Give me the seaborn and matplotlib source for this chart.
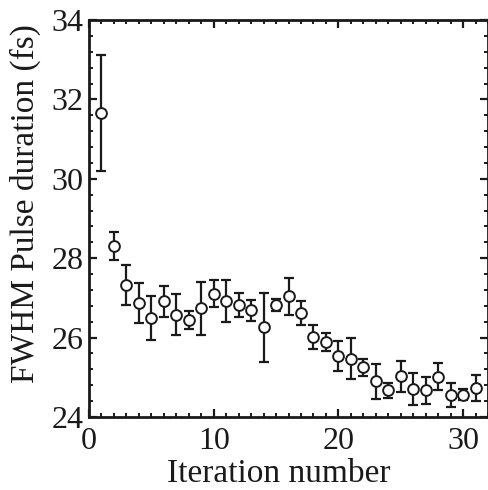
import numpy as np
import pandas as pd
import matplotlib
matplotlib.use('Agg')
import matplotlib.pyplot as plt
from matplotlib.ticker import MultipleLocator
import seaborn as sns

# Данные
iteration = list(range(1, 32))
fwhm = [31.66, 28.31, 27.32, 26.88, 26.49, 26.91, 26.58, 26.44, 26.74, 27.11,
        26.92, 26.82, 26.69, 26.26, 26.83, 27.04, 26.62, 26.02, 25.89, 25.54,
        25.47, 25.25, 24.90, 24.67, 25.03, 24.71, 24.67, 25.02, 24.55, 24.56,
        24.74]
err = [1.45, 0.35, 0.50, 0.50, 0.56, 0.38, 0.51, 0.23, 0.67, 0.33,
       0.52, 0.31, 0.26, 0.87, 0.15, 0.47, 0.31, 0.30, 0.23, 0.38,
       0.51, 0.22, 0.44, 0.18, 0.39, 0.41, 0.34, 0.33, 0.30, 0.14,
       0.33]

df = pd.DataFrame({'it': iteration, 'fwhm': fwhm, 'err': err})

sns.set_theme(style='ticks')
plt.rcParams['font.family'] = ['Liberation Serif', 'DejaVu Serif']

INK = '#1a1a1a'

fig = plt.figure(figsize=(4.89, 4.90), dpi=100)
ax = fig.add_axes([0.182, 0.149, 0.816, 0.810])

ax.errorbar(df['it'], df['fwhm'], yerr=df['err'], fmt='none',
            ecolor=INK, elinewidth=1.6, capsize=3.5, capthick=1.6, zorder=2)
sns.scatterplot(data=df, x='it', y='fwhm', ax=ax, marker='o', s=60,
                facecolor='white', edgecolor=INK, linewidth=1.4, zorder=3)

ax.set_xlim(0, 32)
ax.set_ylim(24, 34)
ax.xaxis.set_major_locator(MultipleLocator(10))
ax.xaxis.set_minor_locator(MultipleLocator(1))
ax.yaxis.set_major_locator(MultipleLocator(2))
ax.yaxis.set_minor_locator(MultipleLocator(0.4))

for s in ax.spines.values():
    s.set_visible(True)
    s.set_linewidth(2.0)
    s.set_color(INK)

ax.tick_params(which='both', direction='in', top=True, right=True,
               color=INK, labelcolor=INK)
ax.tick_params(which='major', length=6, width=1.6, labelsize=23)
ax.tick_params(which='minor', length=3, width=1.4)
ax.tick_params(axis='x', which='major', pad=7)
ax.tick_params(axis='y', which='major', pad=4)

ax.set_xlabel('Iteration number', fontsize=24, color=INK)
ax.set_ylabel('FWHM Pulse duration (fs)', fontsize=24, color=INK)
# подписи в оригинале немного смещены от центра оси
ax.xaxis.set_label_coords(0.475, -0.105)
ax.yaxis.set_label_coords(-0.12, 0.537)

fig.savefig('out.png', dpi=100)
